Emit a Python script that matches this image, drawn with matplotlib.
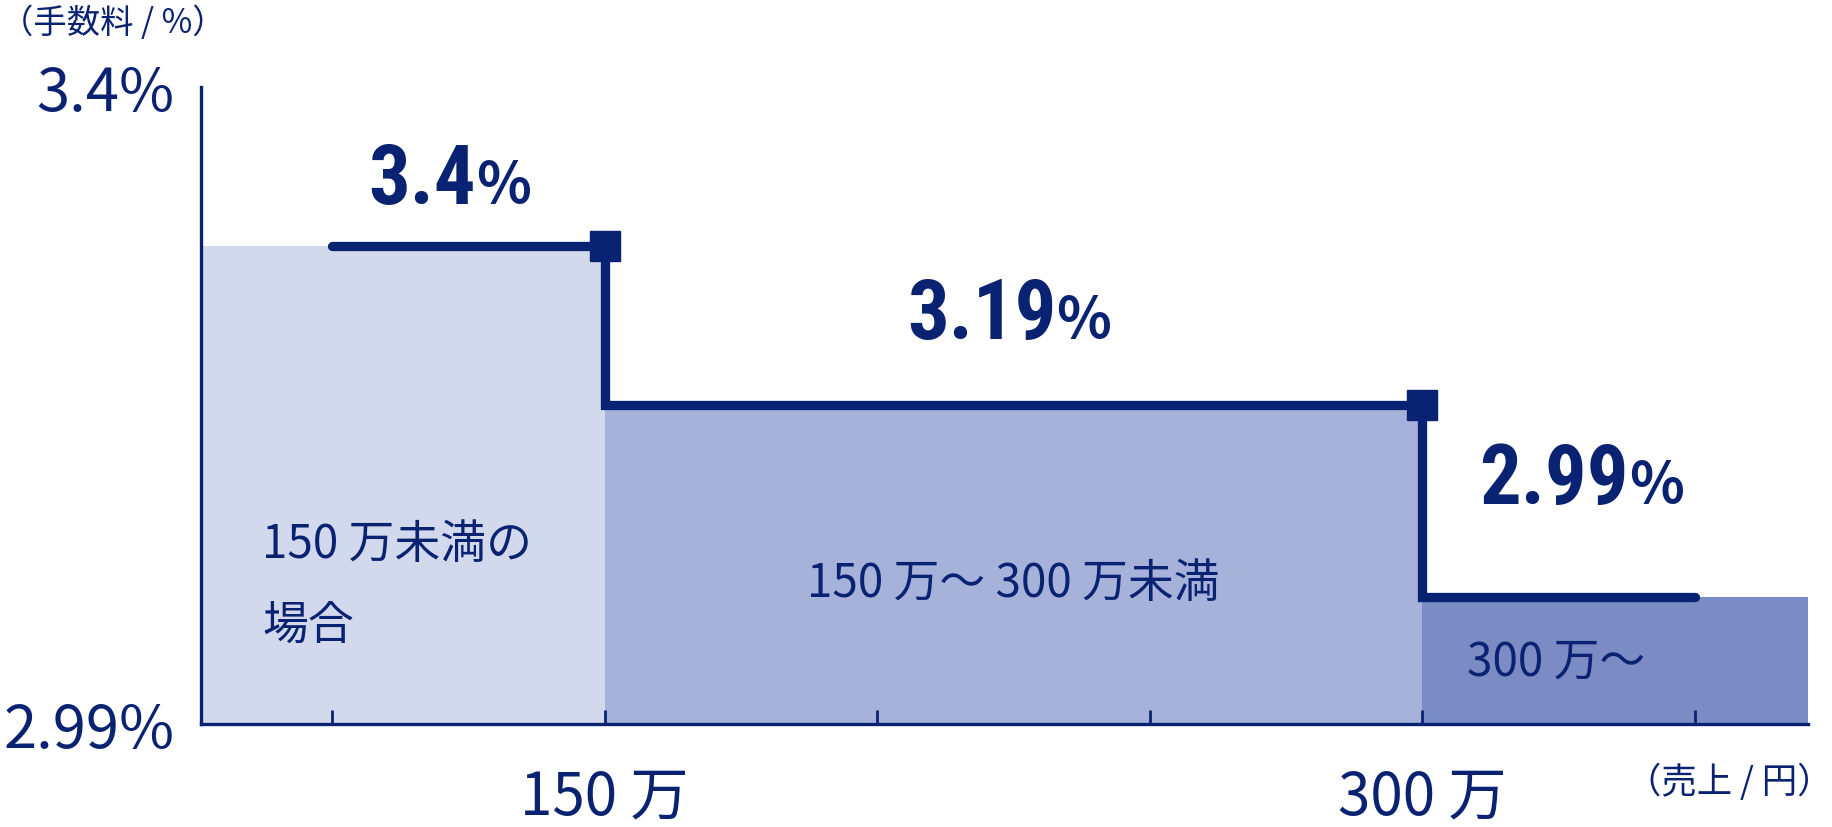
import matplotlib
matplotlib.use("Agg")
import matplotlib.pyplot as plt
from matplotlib import font_manager

# --- data ------------------------------------------------------------
boundaries = [150, 300]                 # sales, in 万円
rates = ["3.4", "3.19", "2.99"]         # fee per band, %
step_levels = [0.75, 0.5, 0.2]          # schematic height of each band
line_span = [100, 350]                  # where the step line starts / ends
x_ticks = [100, 150, 200, 250, 300, 350]
x_tick_labels = {150: "150 万", 300: "300 万"}
y_tick_labels = ["2.99%", "3.4%"]
band_labels = ["150 万未満の\n場合", "150 万～ 300 万未満", "300 万～"]
x_range = [76, 370.7]

NAVY = "#0a2272"
fills = ["#d3d9ec", "#a6b2da", "#7b8cc4"]

jp = "Noto Sans CJK JP"
names = {f.name for f in font_manager.fontManager.ttflist}
bold_font = next((n for n in ["Liberation Sans Narrow", "Roboto Condensed"] if n in names), jp)
plt.rcParams["font.family"] = [jp, "DejaVu Sans"]

fig = plt.figure(figsize=(18.32, 8.28), dpi=100)
ax = fig.add_axes([0.1097, 0.1244, 0.8772, 0.7698])
ax.set_xlim(x_range)
ax.set_ylim(0, 1)

# shaded bands
edges = [x_range[0]] + boundaries + [x_range[1]]
for i in range(3):
    ax.fill_between([edges[i], edges[i + 1]], 0, step_levels[i],
                    color=fills[i], lw=0, zorder=1)

# step line
xs = [line_span[0], boundaries[0], boundaries[0], boundaries[1], boundaries[1], line_span[1]]
ys = [step_levels[0], step_levels[0], step_levels[1], step_levels[1], step_levels[2], step_levels[2]]
ax.plot(xs, ys, color=NAVY, lw=6.7, solid_capstyle="round", solid_joinstyle="miter", zorder=3)
ax.plot(boundaries, step_levels[:2], "s", color=NAVY, ms=21.5, zorder=4)

# rate labels (number + smaller %)
rate_pos = [(126.4, 0.817), (232.9, 0.606), (337.9, 0.346)]
for r, (x, y) in zip(rates, rate_pos):
    ax.text(x, y, r, ha="right", va="baseline", fontsize=59.5, fontweight="bold",
            color=NAVY, family=[bold_font, jp])
    ax.text(x, y, "%", ha="left", va="baseline", fontsize=41, fontweight="bold",
            color=NAVY, family=[jp])

# band labels
ax.text(87.2, 0.22, band_labels[0], ha="left", va="center", fontsize=33,
        color=NAVY, linespacing=1.85)
ax.text(225, 0.222, band_labels[1], ha="center", va="center", fontsize=33, color=NAVY)
ax.text(308.2, 0.099, band_labels[2], ha="left", va="center", fontsize=33, color=NAVY)

# axes
for s in ["top", "right"]:
    ax.spines[s].set_visible(False)
for s in ["left", "bottom"]:
    ax.spines[s].set_color(NAVY)
    ax.spines[s].set_linewidth(2.4)
    ax.spines[s].set_zorder(5)

ax.set_xticks(x_ticks)
ax.set_xticklabels([])
ax.tick_params(axis="x", direction="in", length=10, width=2, color=NAVY)
for t in x_ticks:
    if t in x_tick_labels:
        ax.text(t, -0.141, x_tick_labels[t], ha="center", va="baseline",
                fontsize=42, color=NAVY, transform=ax.get_xaxis_transform())

ax.set_yticks([0, 1])
ax.set_yticklabels(y_tick_labels, fontsize=43, color=NAVY)
ax.tick_params(axis="y", length=0, pad=19)

fig.text(0.0, 0.972, "（手数料 / %）", ha="left", va="center", fontsize=24, color=NAVY)
fig.text(1.0, 0.055, "（売上 / 円）", ha="right", va="center", fontsize=25.5, color=NAVY)

fig.savefig("out.png", dpi=100)
